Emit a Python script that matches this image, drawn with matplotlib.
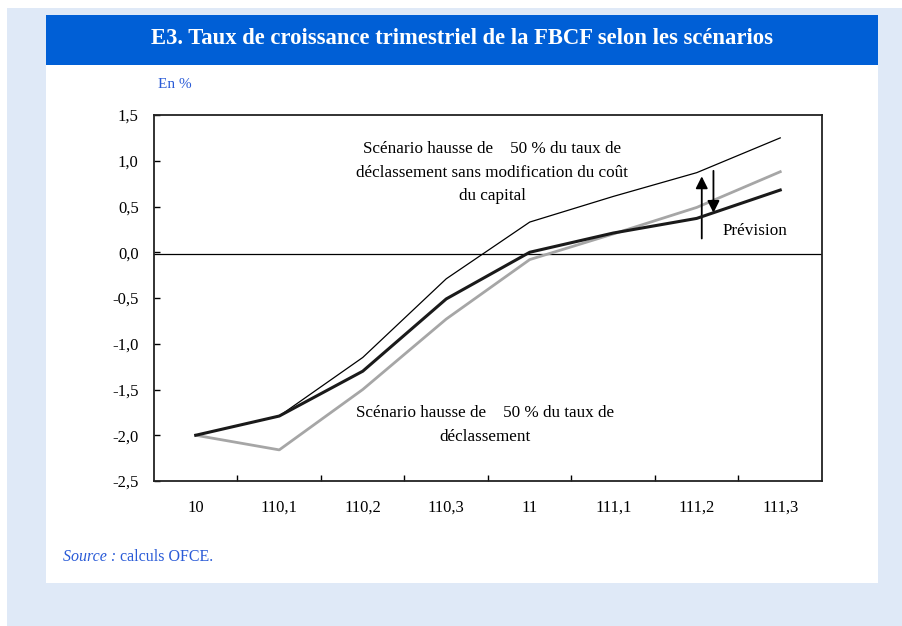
import numpy as np
import matplotlib.pyplot as plt
from matplotlib.patches import Rectangle

# Data
categories = ['10', '110,1', '110,2', '110,3', '11', '111,1', '111,2', '111,3']
prevision = [-2.0, -1.79, -1.30, -0.51, 0.0, 0.21, 0.37, 0.68]
sans_modif = [-2.0, -1.79, -1.15, -0.29, 0.33, 0.61, 0.87, 1.25]
hausse_50 = [-2.0, -2.16, -1.50, -0.73, -0.08, 0.20, 0.49, 0.88]
yticks = [-2.5, -2.0, -1.5, -1.0, -0.5, 0.0, 0.5, 1.0, 1.5]

plt.rcParams['font.family'] = ['Liberation Serif', 'DejaVu Serif']

W, H = 903, 626
fig = plt.figure(figsize=(W / 100, H / 100), dpi=100)
fig.patch.set_facecolor('white')

def px_rect(x0, y0, x1, y1, color):
    # rectangle given in pixel coords (top-left origin)
    fig.patches.append(Rectangle((x0 / W, 1 - y1 / H), (x1 - x0) / W, (y1 - y0) / H,
                                 transform=fig.transFigure, facecolor=color,
                                 edgecolor='none', zorder=-5))

px_rect(7, 8, W, H, '#dfe9f7')
px_rect(46, 65, 878, 583, 'white')
px_rect(46, 15, 878, 65, '#005fd6')

fig.text(462 / W, 1 - 38 / H, 'E3. Taux de croissance trimestriel de la FBCF selon les scénarios',
         color='white', fontsize=16.3, fontweight='bold', ha='center', va='center')
fig.text(158 / W, 1 - 84 / H, 'En %', color='#2a5bd7', fontsize=11, ha='left', va='center')
fig.text(63 / W, 1 - 557 / H, 'Source :', color='#2a5bd7', fontsize=11.5, style='italic',
         ha='left', va='center')
fig.text(120 / W, 1 - 557 / H, 'calculs OFCE.', color='#2a5bd7', fontsize=11.5,
         ha='left', va='center')

ax = fig.add_axes([154 / W, 1 - 481 / H, 668 / W, 366 / H])
ax.set_zorder(2)
ax.set_facecolor('white')
x = np.arange(len(categories))

ax.axhline(-0.02, color='black', lw=0.9, zorder=1)
ax.plot(x, hausse_50, color='#a6a6a6', lw=2.0, zorder=2)
ax.plot(x, sans_modif, color='black', lw=0.9, zorder=3)
ax.plot(x, prevision, color='#1a1a1a', lw=2.2, zorder=4)

# arrows near 111,2
ax.annotate('', xy=(6.06, 0.86), xytext=(6.06, 0.12),
            arrowprops=dict(arrowstyle='-|>', color='black', lw=1.3, mutation_scale=18))
ax.annotate('', xy=(6.2, 0.40), xytext=(6.2, 0.92),
            arrowprops=dict(arrowstyle='-|>', color='black', lw=1.3, mutation_scale=18))

ax.text(3.55, 0.87, 'Scénario hausse de    50 % du taux de\n'
        'déclassement sans modification du coût\ndu capital',
        ha='center', va='center', fontsize=12.3, linespacing=1.65)
ax.text(6.7, 0.23, 'Prévision', ha='center', va='center', fontsize=12.3)
ax.text(3.46, -1.89, 'Scénario hausse de    50 % du taux de\ndéclassement',
        ha='center', va='center', fontsize=12.3, linespacing=1.65)

ax.set_xlim(-0.5, len(categories) - 0.5)
ax.set_ylim(-2.5, 1.5)
ax.set_yticks(yticks)
ax.set_yticklabels([f'{v:.1f}'.replace('.', ',') for v in yticks], fontsize=12)
ax.set_xticks(x[:-1] + 0.5)
ax.set_xticklabels([])
for i, c in enumerate(categories):
    ax.text(i, -2.795, c, ha='center', va='center', fontsize=12)
ax.tick_params(axis='both', direction='in', length=4, width=1, color='black')
ax.tick_params(axis='y', pad=11)
for s in ax.spines.values():
    s.set_linewidth(1.3)
    s.set_color('#222222')

fig.savefig('out.png', dpi=100)
